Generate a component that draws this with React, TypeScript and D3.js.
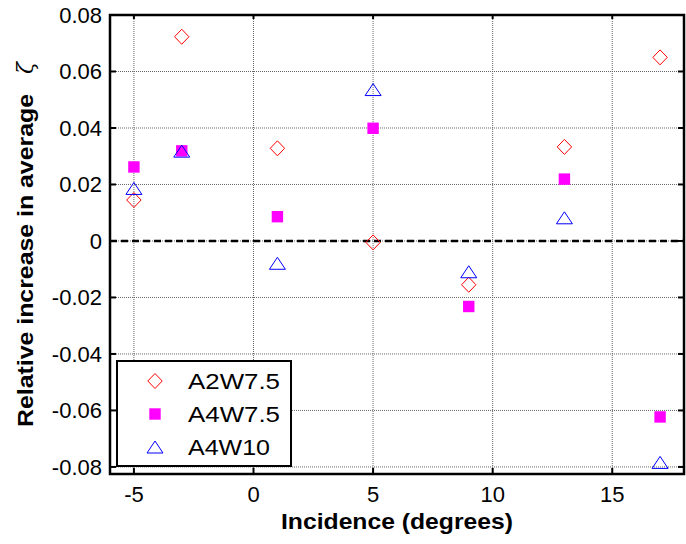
import React, { useEffect, useRef } from 'react'
import * as d3 from 'd3'

const incidence = [-5, -3, 1, 5, 9, 13, 17]
const a2w75 = [0.0145, 0.0723, 0.0328, -0.0005, -0.0155, 0.0333, 0.065]
const a4w75 = [0.0262, 0.0319, 0.0086, 0.0399, -0.0232, 0.0219, -0.0623]
const a4w10 = [0.0186, 0.0318, -0.0079, 0.0536, -0.0109, 0.0082, -0.0784]
const xTicks = [-5, 0, 5, 10, 15]
const yTicks = [-0.08, -0.06, -0.04, -0.02, 0, 0.02, 0.04, 0.06, 0.08]
const seriesNames = ['A2W7.5', 'A4W7.5', 'A4W10']

const W = 686
const H = 544
const FONT = 'Liberation Sans, Arial, sans-serif'

const App = () => {
  const ref = useRef(null)

  useEffect(() => {
    const svg = d3.select(ref.current)
    svg.selectAll('*').remove()

    const x = d3.scaleLinear().domain([-6, 18]).range([110, 684])
    const y = d3.scaleLinear().domain([-0.0825, 0.08]).range([474, 15])
    const [x0, x1] = x.range()
    const [y0, y1] = y.range()

    // grid
    const grid = svg.append('g')
    grid.selectAll('.gx').data(xTicks).enter().append('line')
      .attr('x1', d => x(d)).attr('x2', d => x(d))
      .attr('y1', y1).attr('y2', y0)
      .attr('stroke', '#666').attr('stroke-width', 1).attr('stroke-dasharray', '1,1')
    grid.selectAll('.gy').data(yTicks).enter().append('line')
      .attr('y1', d => y(d)).attr('y2', d => y(d))
      .attr('x1', x0).attr('x2', x1)
      .attr('stroke', '#666').attr('stroke-width', 1).attr('stroke-dasharray', '1,1')

    // zero line
    svg.append('line')
      .attr('x1', x0).attr('x2', x1).attr('y1', y(0)).attr('y2', y(0))
      .attr('stroke', '#000').attr('stroke-width', 2.5).attr('stroke-dasharray', '7,4')

    // ticks (inward, all sides)
    const tk = svg.append('g').attr('stroke', '#000').attr('stroke-width', 2)
    xTicks.forEach(t => {
      tk.append('line').attr('x1', x(t)).attr('x2', x(t)).attr('y1', y0).attr('y2', y0 - 6)
      tk.append('line').attr('x1', x(t)).attr('x2', x(t)).attr('y1', y1).attr('y2', y1 + 4)
    })
    yTicks.forEach(t => {
      tk.append('line').attr('y1', y(t)).attr('y2', y(t)).attr('x1', x0).attr('x2', x0 + 6)
      tk.append('line').attr('y1', y(t)).attr('y2', y(t)).attr('x1', x1).attr('x2', x1 - 6)
    })

    // frame
    svg.append('rect')
      .attr('x', x0).attr('y', y1).attr('width', x1 - x0).attr('height', y0 - y1)
      .attr('fill', 'none').attr('stroke', '#000').attr('stroke-width', 2.5)

    // tick labels
    svg.selectAll('.xl').data(xTicks).enter().append('text')
      .attr('x', d => x(d)).attr('y', 502)
      .attr('text-anchor', 'middle').attr('font-family', FONT).attr('font-size', 22)
      .text(d => String(d))
    svg.selectAll('.yl').data(yTicks).enter().append('text')
      .attr('x', 102).attr('y', d => y(d)).attr('dy', '0.36em')
      .attr('text-anchor', 'end').attr('font-family', FONT).attr('font-size', 22)
      .text(d => (d === 0 ? '0' : d3.format('.2f')(d).replace('−', '-')))

    // axis labels
    svg.append('text')
      .attr('x', 397).attr('y', 529)
      .attr('text-anchor', 'middle').attr('font-family', FONT).attr('font-size', 22)
      .attr('font-weight', 'bold')
      .attr('textLength', 232).attr('lengthAdjust', 'spacingAndGlyphs')
      .text('Incidence (degrees)')
    const yl = svg.append('g').attr('transform', 'translate(33,0) rotate(-90)')
    yl.append('text')
      .attr('x', -427).attr('y', 0)
      .attr('font-family', FONT).attr('font-size', 22).attr('font-weight', 'bold')
      .attr('textLength', 333).attr('lengthAdjust', 'spacingAndGlyphs')
      .text('Relative increase in average')
    yl.append('text')
      .attr('x', -68).attr('y', 0).attr('text-anchor', 'middle')
      .attr('font-family', 'DejaVu Serif, serif').attr('font-style', 'italic')
      .attr('font-size', 22)
      .text('ζ')

    // markers
    const drawDiamond = (g, cx, cy) => g.append('path')
      .attr('d', `M${cx},${cy - 7.5}L${cx + 7.2},${cy}L${cx},${cy + 7.5}L${cx - 7.2},${cy}Z`)
      .attr('fill', 'none').attr('stroke', '#ff0000').attr('stroke-width', 1)
    const drawSquare = (g, cx, cy) => g.append('rect')
      .attr('x', cx - 5.7).attr('y', cy - 5.7).attr('width', 11.4).attr('height', 11.4)
      .attr('fill', '#ff00ff')
    const drawTriangle = (g, cx, cy) => g.append('path')
      .attr('d', `M${cx},${cy - 6}L${cx + 8},${cy + 6}L${cx - 8},${cy + 6}Z`)
      .attr('fill', 'none').attr('stroke', '#0000ff').attr('stroke-width', 1)

    const pts = svg.append('g')
    incidence.forEach((v, i) => drawDiamond(pts, x(v), y(a2w75[i])))
    incidence.forEach((v, i) => drawSquare(pts, x(v), y(a4w75[i])))
    incidence.forEach((v, i) => drawTriangle(pts, x(v), y(a4w10[i])))

    // legend
    const lg = svg.append('g')
    lg.append('rect')
      .attr('x', 117).attr('y', 361).attr('width', 174).attr('height', 105)
      .attr('fill', '#fff').attr('stroke', '#000').attr('stroke-width', 2)
    const drawers = [drawDiamond, drawSquare, drawTriangle]
    seriesNames.forEach((name, i) => {
      const cy = 381 + i * 33
      drawers[i](lg, 155, cy)
      lg.append('text')
        .attr('x', 188).attr('y', cy).attr('dy', '0.36em')
        .attr('font-family', FONT).attr('font-size', 22)
        .attr('textLength', name === 'A4W10' ? 82 : 92).attr('lengthAdjust', 'spacingAndGlyphs')
        .text(name)
    })
  }, [])

  return (
    <svg ref={ref} width={W} height={H}
      style={{ position: 'absolute', left: 0, top: 0, background: '#fff' }} />
  )
}

export default App
